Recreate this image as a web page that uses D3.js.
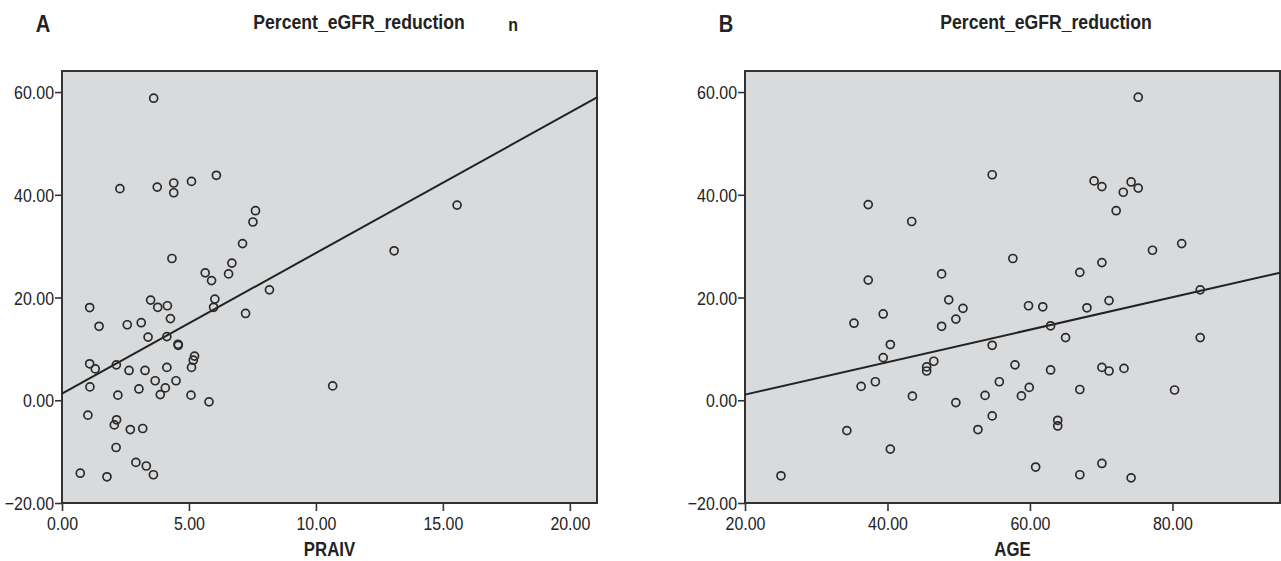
<!DOCTYPE html>
<html>
<head>
<meta charset="utf-8">
<script src="https://cdn.jsdelivr.net/npm/d3@7"></script>
<style>
  html, body { margin: 0; padding: 0; background: #fff; }
  svg { display: block; }
  .lbl { font-family: "Liberation Sans", Arial, Helvetica, sans-serif; fill: #222; }
</style>
</head>
<body>
<svg id="chart" width="1281" height="561"></svg>
<script>
// ---------- DATA ----------
const panelLetters = ["A", "B"];
const panelTitles = ["Percent_eGFR_reduction", "Percent_eGFR_reduction"];
const xAxisTitles = ["PRAIV", "AGE"];
const yTicks = [-20, 0, 20, 40, 60];
const xTicksA = [0, 5, 10, 15, 20];
const xTicksB = [20, 40, 60, 80];
const yDomain = [-20, 64.1];
const xDomainA = [0, 21.07];
const xDomainB = [20, 95.1];

// Panel A: PRAIV vs Percent_eGFR_reduction
const praiv = [3.61, 2.28, 3.75, 4.40, 4.40, 5.10, 6.08, 7.62, 7.52, 7.11, 4.33, 5.64, 6.69, 6.56, 5.89, 8.17,
  1.09, 3.49, 3.77, 4.15, 6.02, 5.97, 4.27, 7.23, 1.46, 2.57, 3.12, 3.39, 4.13, 4.57, 4.58,
  1.09, 1.31, 2.14, 2.64, 3.27, 4.13, 5.22, 5.17, 5.10, 1.10, 2.20, 3.03, 3.67, 4.07, 3.87, 4.49, 5.08, 5.79,
  10.66, 1.02, 2.15, 2.06, 2.69, 3.18, 2.13, 2.91, 3.32, 3.60, 0.72, 1.77, 15.56, 13.08];
const reductionA = [58.8, 41.2, 41.5, 42.3, 40.4, 42.6, 43.8, 36.9, 34.7, 30.5, 27.6, 24.8, 26.7, 24.6, 23.3, 21.5,
  18.05, 19.5, 18.1, 18.4, 19.7, 18.1, 15.9, 16.9, 14.4, 14.7, 15.1, 12.3, 12.4, 10.9, 10.7,
  7.1, 6.1, 6.9, 5.8, 5.8, 6.4, 8.6, 7.8, 6.4, 2.6, 1.0, 2.2, 3.8, 2.4, 1.1, 3.8, 1.0, -0.3,
  2.8, -2.9, -3.8, -4.8, -5.7, -5.5, -9.2, -12.1, -12.8, -14.5, -14.2, -14.9, 38.0, 29.1];
const fitA = [1.3, 2.737]; // intercept, slope

// Panel B: AGE vs Percent_eGFR_reduction
const age = [54.7, 37.3, 43.4, 57.6, 47.6, 37.3,
  75.2, 69.0, 70.1, 74.2, 75.2, 73.1, 72.1, 70.1, 67.0, 77.2, 81.3,
  48.6, 50.6, 49.6, 47.6, 39.4, 35.3, 40.4, 39.4, 54.7, 57.9, 46.5, 45.5, 45.5, 38.3, 36.3, 43.5, 49.6, 55.7, 53.7, 54.7, 52.7, 34.3, 40.4, 25.05,
  83.9, 59.8, 61.8, 68.0, 71.1, 62.9, 65.0, 83.9, 62.9, 70.1, 71.1, 73.2, 59.9, 58.8, 67.0, 80.3, 63.9, 63.9, 60.8, 67.0, 70.1, 74.2];
const reductionB = [43.9, 38.1, 34.8, 27.6, 24.6, 23.4,
  59.0, 42.7, 41.6, 42.5, 41.3, 40.5, 36.9, 26.8, 24.9, 29.2, 30.5,
  19.55, 17.9, 15.8, 14.4, 16.8, 15.0, 10.85, 8.3, 10.7, 6.9, 7.6, 6.5, 5.7, 3.6, 2.7, 0.8, -0.45, 3.6, 0.95, -3.05, -5.7, -5.9, -9.5, -14.7,
  21.5, 18.4, 18.2, 18.0, 19.4, 14.5, 12.2, 12.2, 5.9, 6.4, 5.7, 6.2, 2.5, 0.85, 2.1, 2.0, -3.9, -5.0, -13.0, -14.5, -12.3, -15.1];
const fitB = [-5.22, 0.316];

// ---------- DRAW ----------
const svg = d3.select("#chart");
const NARROW = 0.84; // horizontal squeeze to imitate a condensed face
const panels = [
  { letter: panelLetters[0], title: panelTitles[0], xt: xAxisTitles[0], xs: praiv, ys: reductionA, fit: fitA,
    xDom: xDomainA, xTicks: xTicksA, left: 62, right: 597, letterX: 43, titleX: 359, extra: "n", extraX: 513 },
  { letter: panelLetters[1], title: panelTitles[1], xt: xAxisTitles[1], xs: age, ys: reductionB, fit: fitB,
    xDom: xDomainB, xTicks: xTicksB, left: 745, right: 1280, letterX: 726, titleX: 1046 }
];
const plotTop = 71, plotBottom = 503;
const fmt = d3.format(".2f");

function narrowText(sel, x, y, txt, size, bold, anchor) {
  return sel.append("text").attr("class", "lbl")
    .attr("transform", `translate(${x},${y}) scale(${NARROW},1)`)
    .attr("text-anchor", anchor || "middle")
    .attr("font-size", size).attr("font-weight", bold ? "bold" : "normal").text(txt);
}

panels.forEach(p => {
  const x = d3.scaleLinear().domain(p.xDom).range([p.left, p.right]);
  const y = d3.scaleLinear().domain(yDomain).range([plotBottom, plotTop]);
  const g = svg.append("g");

  g.append("rect").attr("x", p.left).attr("y", plotTop)
    .attr("width", p.right - p.left).attr("height", plotBottom - plotTop)
    .attr("fill", "#d9dadc").attr("stroke", "#333").attr("stroke-width", 2);

  // axes
  const ya = g.append("g").attr("transform", `translate(${p.left},0)`)
    .call(d3.axisLeft(y).tickValues(yTicks).tickFormat(fmt).tickSize(7).tickSizeOuter(0));
  const xa = g.append("g").attr("transform", `translate(0,${plotBottom})`)
    .call(d3.axisBottom(x).tickValues(p.xTicks).tickFormat(fmt).tickSize(8).tickSizeOuter(0));
  [ya, xa].forEach(a => {
    a.select(".domain").remove();
    a.selectAll("line").attr("stroke", "#333").attr("stroke-width", 1.6);
    a.selectAll("text").attr("class", "lbl").attr("font-size", 19).attr("fill", "#222")
      .attr("x", null).attr("y", null).attr("dy", null);
  });
  ya.selectAll("text").attr("transform", `translate(-8,6.5) scale(${NARROW},1)`);
  xa.selectAll("text").attr("transform", `translate(0,27) scale(${NARROW},1)`);

  // regression line
  const xd = x.domain();
  g.append("line")
    .attr("x1", x(xd[0])).attr("y1", y(p.fit[0] + p.fit[1] * xd[0]))
    .attr("x2", x(xd[1])).attr("y2", y(p.fit[0] + p.fit[1] * xd[1]))
    .attr("stroke", "#222").attr("stroke-width", 2);

  // points
  g.selectAll("circle.pt").data(p.xs.map((v, i) => [v, p.ys[i]])).join("circle")
    .attr("class", "pt")
    .attr("cx", d => x(d[0])).attr("cy", d => y(d[1])).attr("r", 4)
    .attr("fill", "none").attr("stroke", "#2a2a2a").attr("stroke-width", 1.7);

  // titles
  narrowText(g, p.letterX, 32, p.letter, 24, true);
  narrowText(g, p.titleX, 29, p.title, 21, true);
  if (p.extra) narrowText(g, p.extraX, 31, p.extra, 19, true);
  narrowText(g, (p.left + p.right) / 2, 556, p.xt, 20, true);
});
</script>
</body>
</html>
